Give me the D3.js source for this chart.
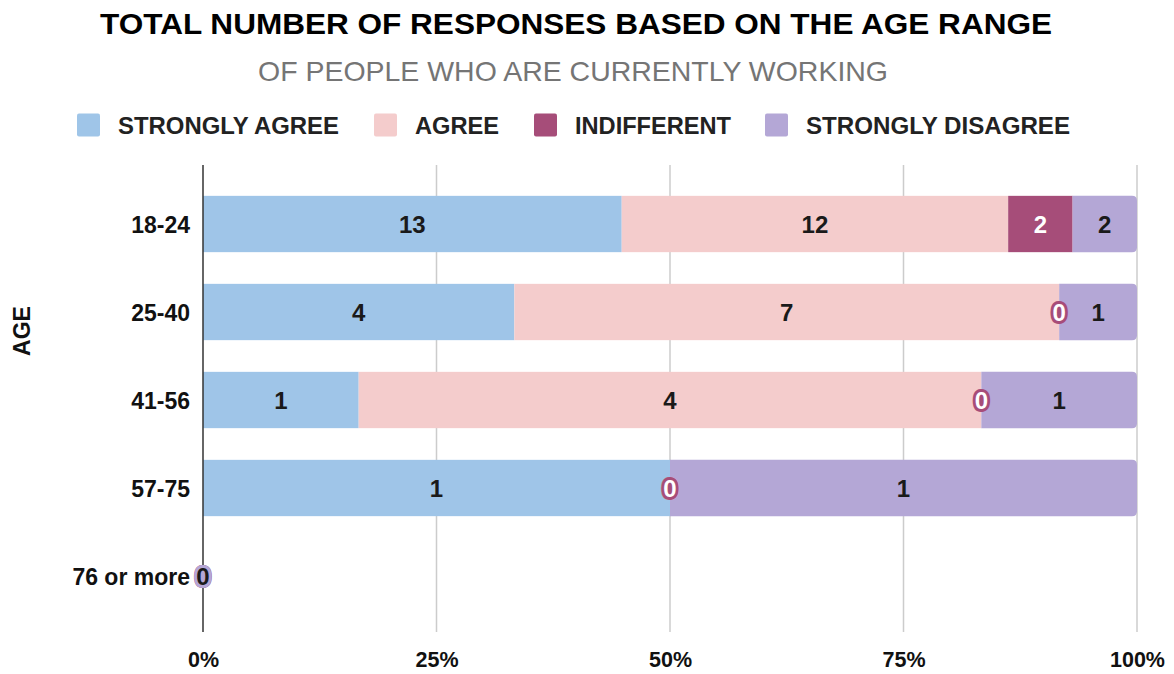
<!DOCTYPE html>
<html><head><meta charset="utf-8">
<script src="https://cdn.jsdelivr.net/npm/d3@7"></script>
<style>body{margin:0;background:#fff;}svg{display:block;}</style>
</head><body>
<svg id="c" width="1174" height="674"></svg>
<script>
const categories = ["18-24","25-40","41-56","57-75","76 or more"];
const seriesNames = ["STRONGLY AGREE","AGREE","INDIFFERENT","STRONGLY DISAGREE"];
const stronglyAgree = [13,4,1,1,0];
const agree = [12,7,4,0,0];
const indifferent = [2,0,0,0,0];
const stronglyDisagree = [2,1,1,1,0];
const tickLabels = ["0%","25%","50%","75%","100%"];
const tickValues = [0,0.25,0.5,0.75,1];
const colors = ["#9fc5e8","#f4cccc","#a64d79","#b4a7d6"];
const textColors = ["#1a1a1a","#1a1a1a","#fff","#1a1a1a"];

const seriesVals = [stronglyAgree, agree, indifferent, stronglyDisagree];
const rows = categories.map((c,i)=>{
  const vals = seriesVals.map(s=>s[i]);
  const tot = d3.sum(vals);
  let acc = 0;
  const segs = vals.map((v,k)=>{const x0 = tot? acc/tot:0; acc+=v; const x1 = tot? acc/tot:0; return {k,v,x0,x1};});
  return {c, segs};
});

const svg = d3.select("#c");
const x = d3.scaleLinear().domain([0,1]).range([203,1137]);
const y = d3.scaleBand().domain(categories).range([180,620]).paddingInner(0.36).paddingOuter(0.18);

const font = "'Liberation Sans', Arial, sans-serif";

svg.append("text").attr("x",576).attr("y",34).attr("text-anchor","middle")
  .attr("font-family",font).attr("font-weight","bold").attr("font-size",29).attr("fill","#000")
  .attr("textLength",952).attr("lengthAdjust","spacingAndGlyphs")
  .text("TOTAL NUMBER OF RESPONSES BASED ON THE AGE RANGE");
svg.append("text").attr("x",573).attr("y",81).attr("text-anchor","middle")
  .attr("font-family",font).attr("font-size",28).attr("fill","#757575")
  .attr("textLength",630).attr("lengthAdjust","spacingAndGlyphs")
  .text("OF PEOPLE WHO ARE CURRENTLY WORKING");

// legend
const legendX = [77,374,534,765];
const legendW = [221,84,156,264];
const lg = svg.append("g");
seriesNames.forEach((n,i)=>{
  lg.append("rect").attr("x",legendX[i]).attr("y",113.5).attr("width",23).attr("height",23).attr("rx",2).attr("fill",colors[i]);
  lg.append("text").attr("x",legendX[i]+41).attr("y",133.5).attr("font-family",font).attr("font-weight","bold")
    .attr("font-size",23).attr("fill","#222").attr("textLength",legendW[i]).attr("lengthAdjust","spacingAndGlyphs").text(n);
});

// grid
const grid = svg.append("g");
tickValues.slice(1).forEach(t=>{
  grid.append("line").attr("x1",x(t)).attr("x2",x(t)).attr("y1",165).attr("y2",632).attr("stroke","#cccccc").attr("stroke-width",1.5);
});

// bars
const bars = svg.append("g");
rows.forEach(r=>{
  r.segs.forEach(s=>{
    if (s.x1 - s.x0 <= 0) return;
    const isLast = Math.abs(s.x1-1)<1e-9;
    const x0 = x(s.x0), x1 = x(s.x1), yy = y(r.c), h = y.bandwidth();
    if (isLast) {
      const rr = 5;
      bars.append("path").attr("fill",colors[s.k])
        .attr("d",`M${x0},${yy}H${x1-rr}Q${x1},${yy} ${x1},${yy+rr}V${yy+h-rr}Q${x1},${yy+h} ${x1-rr},${yy+h}H${x0}Z`);
    } else {
      bars.append("rect").attr("x",x0).attr("y",yy).attr("width",x1-x0).attr("height",h).attr("fill",colors[s.k]);
    }
  });
});

// axis line
svg.append("line").attr("x1",x(0)).attr("x2",x(0)).attr("y1",165).attr("y2",632).attr("stroke","#333").attr("stroke-width",1.5);

// labels
const lab = svg.append("g");
rows.forEach(r=>{
  r.segs.forEach(s=>{
    const cx = (x(s.x0)+x(s.x1))/2, cy = y(r.c)+y.bandwidth()/2;
    const t = lab.append("text").attr("x",cx).attr("y",cy+8.5).attr("text-anchor","middle")
      .attr("font-family",font).attr("font-weight","bold").attr("font-size",24)
      .attr("fill",textColors[s.k]).text(s.v);
    if (s.v===0) {
      t.attr("stroke",colors[s.k]).attr("stroke-width",6).attr("stroke-linejoin","round").attr("paint-order","stroke");
    }
  });
});

// y axis labels
categories.forEach(c=>{
  svg.append("text").attr("x",190).attr("y",y(c)+y.bandwidth()/2+8.5).attr("text-anchor","end")
    .attr("font-family",font).attr("font-weight","bold").attr("font-size",23).attr("fill","#111").text(c);
});
svg.append("text").attr("transform","translate(30,331) rotate(-90)").attr("text-anchor","middle")
  .attr("font-family",font).attr("font-weight","bold").attr("font-size",23).attr("fill","#111").text("AGE");

// x ticks
const xAxis = d3.axisBottom(x).tickValues(tickValues).tickFormat((d,i)=>tickLabels[i]).tickSize(0).tickPadding(0);
const xg = svg.append("g").attr("transform","translate(0,652)").call(xAxis);
xg.select(".domain").remove();
xg.selectAll("text").attr("font-family",font).attr("font-weight","bold").attr("font-size",21.5).attr("fill","#111");
</script>
</body></html>
